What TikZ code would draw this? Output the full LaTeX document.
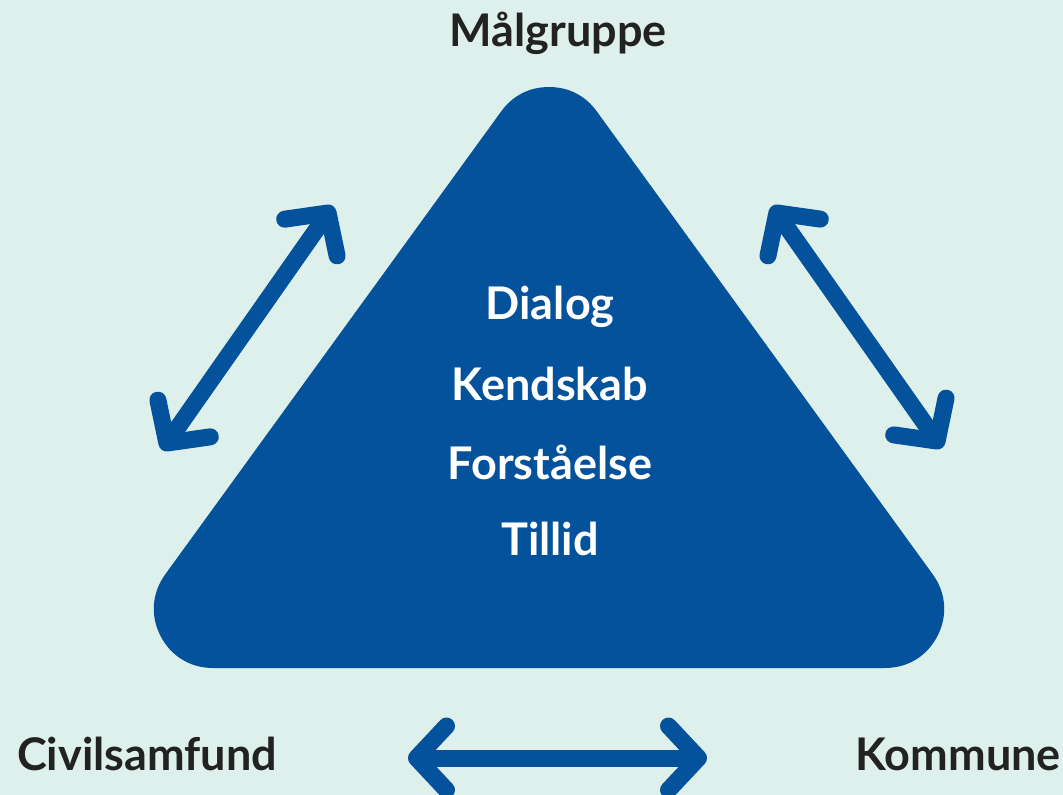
\documentclass[tikz,border=0pt]{standalone}
\usepackage{fontspec}
\setmainfont{Lato}
\usetikzlibrary{arrows.meta}
\definecolor{bg}{RGB}{221,240,235}
\definecolor{tblue}{RGB}{3,82,155}
\definecolor{ink}{RGB}{34,34,34}
\tikzset{
  lbl/.style={font=\fontsize{45}{50}\selectfont\bfseries, text=ink, inner sep=0pt},
  inner/.style={font=\fontsize{45}{50}\selectfont\bfseries, text=white, inner sep=0pt},
  dbl/.style={draw=tblue, line width=17pt, line cap=round,
    {Straight Barb[round, length=30pt, width=64pt]}-{Straight Barb[round, length=30pt, width=64pt]}}
}
\begin{document}
\begin{tikzpicture}[x=1pt,y=-1pt]
\fill[bg] (0,0) rectangle (1063,795);
\useasboundingbox (0,0) rectangle (1063,795);
% triangle (rounded by a thick round-joined outline)
\filldraw[tblue, line width=118pt, line join=round] (549,146) -- (885,609) -- (213,609) -- cycle;
% labels
\node[lbl] (mal) at (558,33) {Målgruppe};
\node[lbl, anchor=west] (civ) at (17,754) {Civilsamfund};
\node[lbl, anchor=east] (kom) at (1061,754) {Kommune};
\node[inner] (dia) at (550,307) {Dialog};
\node[inner] (ken) at (550,384) {Kendskab};
\node[inner] (for) at (550,462) {Forståelse};
\node[inner] (til) at (550,539) {Tillid};
% arrows
\coordinate (l1) at (162,450);
\coordinate (l2) at (333,206);
\coordinate (r1) at (772,206);
\coordinate (r2) at (942,448);
\coordinate (b1) at (408,758);
\coordinate (b2) at (707,758);
\draw[dbl] (l1) -- (l2);
\draw[dbl] (r1) -- (r2);
\draw[dbl] (b1) -- (b2);
\end{tikzpicture}
\end{document}
